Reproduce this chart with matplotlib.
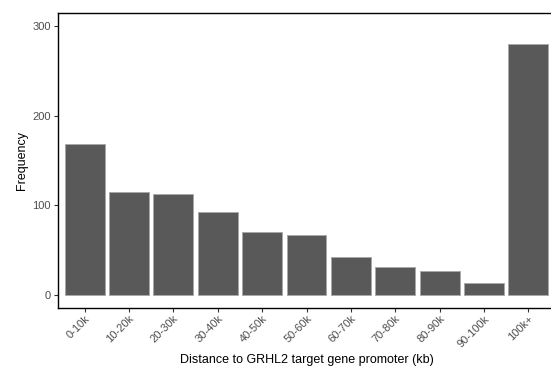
import matplotlib
matplotlib.use("Agg")
import matplotlib.pyplot as plt
import matplotlib.transforms as mtransforms

# distance bins and peak counts
bins = ["0-10k", "10-20k", "20-30k", "30-40k", "40-50k", "50-60k",
        "60-70k", "70-80k", "80-90k", "90-100k", "100k+"]
counts = [168, 115, 112, 92, 70, 67, 42, 31, 26, 13, 280]
y_ticks = [0, 100, 200, 300]

plt.rcParams['font.family'] = ['Liberation Sans', 'DejaVu Sans']

fig = plt.figure(figsize=(5.51, 3.66), dpi=100)
ax = fig.add_axes([58 / 551, 58 / 366, 497 / 551, 295 / 366])

x = list(range(len(bins)))
ax.bar(x, counts, width=0.9, color='#595959', edgecolor='#a8a8a8', linewidth=0.7)

ax.set_xlim(-0.6, 10.6)
ax.set_ylim(-15, 315)
ax.set_xticks(x)
ax.set_xticklabels(bins, rotation=45, ha='right', va='top', rotation_mode='anchor')
ax.set_yticks(y_ticks)

# nudge rotated labels a bit right, like ggplot's hjust/vjust
shift = mtransforms.ScaledTranslation(7 / 100, 0, fig.dpi_scale_trans)
for lab in ax.get_xticklabels():
    lab.set_transform(lab.get_transform() + shift)

for s in ax.spines.values():
    s.set_linewidth(1.0)
    s.set_color('black')

ax.tick_params(axis='both', length=3, width=0.8, color='#333333',
               labelcolor='#4D4D4D', labelsize=8, pad=2)
ax.tick_params(axis='x', pad=1)

ax.set_xlabel('Distance to GRHL2 target gene promoter (kb)', fontsize=9, labelpad=3.5)
ax.set_ylabel('Frequency', fontsize=9, labelpad=3)

fig.savefig('out.png', dpi=100)
